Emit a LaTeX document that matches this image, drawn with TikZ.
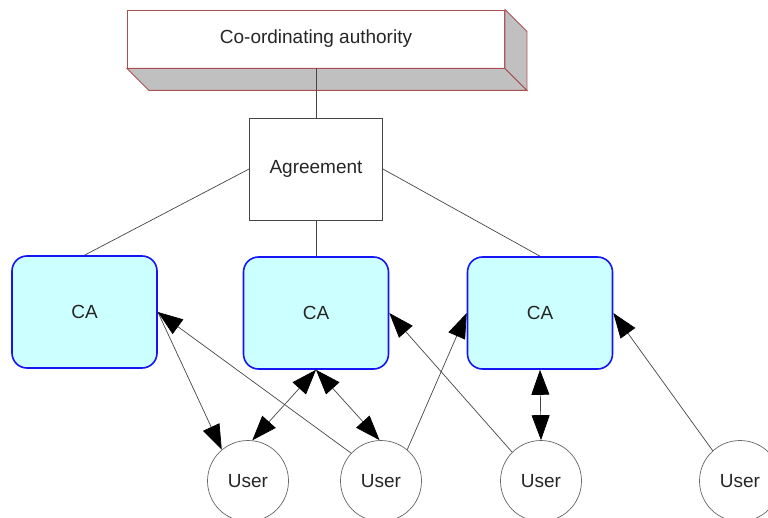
\documentclass[tikz,border=0pt]{standalone}
\usepackage{fontspec}
\setmainfont{Liberation Sans}
\usetikzlibrary{arrows.meta}
\definecolor{cafill}{RGB}{204,255,255}
\definecolor{caedge}{RGB}{20,20,245}
\definecolor{authedge}{RGB}{170,80,85}
\definecolor{shade}{RGB}{192,192,192}
\definecolor{lineg}{RGB}{70,70,70}
\tikzset{
  txt/.style={font=\fontsize{19}{22}\selectfont, text=black!85},
  authbox/.style={txt, draw=authedge, fill=white, line width=0.9pt, minimum width=377pt, minimum height=58pt, inner sep=0pt},
  agrbox/.style={txt, draw=lineg, fill=white, line width=0.8pt, minimum width=133pt, minimum height=102pt, inner sep=0pt},
  cabox/.style={txt, draw=caedge, fill=cafill, line width=1.6pt, rounded corners=15pt, minimum width=145pt, minimum height=112pt, inner sep=0pt},
  usernode/.style={txt, circle, draw=black!60, fill=white, line width=0.7pt, minimum size=81pt, inner sep=0pt},
  link/.style={draw=lineg, line width=0.7pt},
  oneway/.style={link, -{Triangle[length=25pt,width=18pt,color=black,fill=black]}},
  twoway/.style={link, {Triangle[length=25pt,width=18pt,color=black,fill=black]}-{Triangle[length=25pt,width=18pt,color=black,fill=black]}},
}
\begin{document}
\begin{tikzpicture}[x=1pt,y=-1pt]
\useasboundingbox[fill=white] (0,0) rectangle (768,518);
% coordinating authority with 3D extrusion
\node[authbox] (auth) at (316,39) {Co-ordinating authority};
\filldraw[fill=shade, draw=authedge, line width=0.9pt]
  (auth.south west) -- ++(22,22) -- ([shift={(22,22)}]auth.south east) -- (auth.south east) -- cycle;
\filldraw[fill=shade, draw=authedge, line width=0.9pt]
  (auth.north east) -- ++(22,22) -- ([shift={(22,22)}]auth.south east) -- (auth.south east) -- cycle;
% agreement
\node[agrbox] (agr) at (316,169) {Agreement};
% CAs
\node[cabox] (ca1) at (84.5,312) {CA};
\node[cabox] (ca2) at (316,313) {CA};
\node[cabox] (ca3) at (540,313) {CA};
% users
\node[usernode] (u1) at (248,481) {User};
\node[usernode] (u2) at (381,481) {User};
\node[usernode] (u3) at (541,481) {User};
\node[usernode] (u4) at (740,481) {User};
% structure lines
\draw[link] (auth.south) -- (agr.north);
\draw[link] (agr.west) -- (ca1.north);
\draw[link] (agr.south) -- (ca2.north);
\draw[link] (agr.east) -- (ca3.north);
% user relations
\draw[oneway] (ca1.east) -- (u1.130);
\draw[oneway] (u2.137) -- (ca1.east);
\draw[twoway] (ca2.south) -- (u1.84);
\draw[twoway] (ca2.south) -- (u2.92);
\draw[oneway] (u2.50) -- (ca3.west);
\draw[oneway] (u3.135) -- (ca2.east);
\draw[twoway] (ca3.south) -- (u3.90);
\draw[oneway] (u4.132) -- (ca3.east);
\end{tikzpicture}
\end{document}
